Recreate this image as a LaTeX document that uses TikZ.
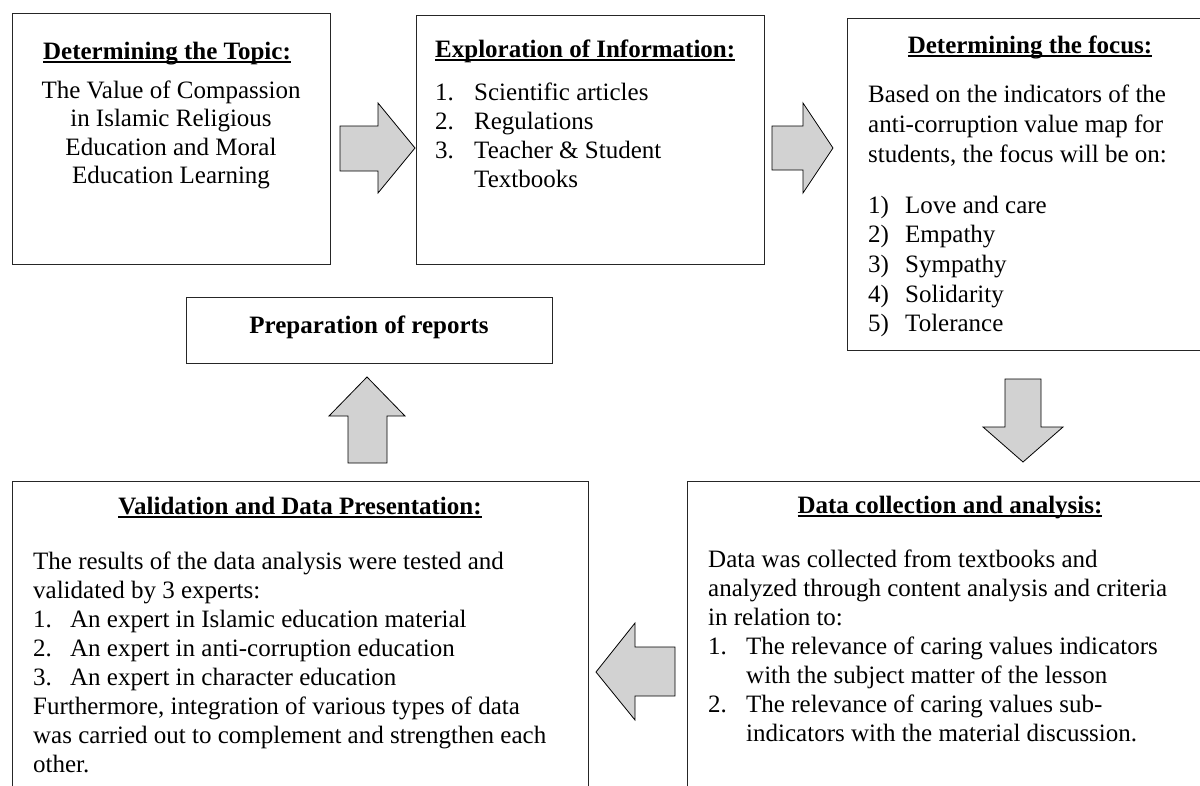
\documentclass[tikz,border=0pt]{standalone}
\usepackage{fontspec}
\setmainfont{Liberation Serif}
\definecolor{arrowgray}{HTML}{D2D2D2}
\newcommand{\ulin}[1]{\setbox0\hbox{#1}\rlap{\rule[-3.5pt]{\wd0}{1.5pt}}\copy0}
\newcommand{\leftlines}[2]{\vtop{\baselineskip=#1pt\lineskiplimit=-100pt\halign{##\hfil\cr#2\crcr}}}
\newcommand{\centerlines}[2]{\vtop{\baselineskip=#1pt\lineskiplimit=-100pt\halign{\hfil##\hfil\cr#2\crcr}}}
\newcommand{\num}[2]{\makebox[#1pt][l]{#2}}
\begin{document}
\begin{tikzpicture}[x=1pt,y=-1pt,
  box/.style={draw=black!85,line width=1.1pt,rectangle,inner sep=0pt,anchor=north west},
  txt/.style={inner sep=0pt,font=\fontsize{25}{29}\selectfont},
  head/.style={inner sep=0pt,anchor=base,font=\fontsize{25}{29}\selectfont\bfseries},
  blockarrow/.style={draw=black,line width=0.8pt,fill=arrowgray,line join=miter}]
\useasboundingbox (0,0) rectangle (1200,785);
\clip (0,0) rectangle (1200,785);
\fill[white] (0,0) rectangle (1200,785);
% boxes
\node[box,minimum width=318pt,minimum height=251pt] (topic) at (12,13) {};
\node[box,minimum width=348pt,minimum height=249pt] (explore) at (416,15) {};
\node[box,minimum width=365pt,minimum height=332pt] (focus) at (847,18) {};
\node[box,minimum width=366pt,minimum height=66pt] (prep) at (186,297) {};
\node[box,minimum width=576pt,minimum height=330pt] (valid) at (12,481) {};
\node[box,minimum width=526pt,minimum height=330pt] (data) at (687,481) {};
% box 1
\node[head] (t1h) at (167,59) {\ulin{Determining the Topic:}};
\node[txt,anchor=base] (t1b) at (171,98) {\centerlines{28.5}{The Value of Compassion\cr in Islamic Religious\cr Education and Moral\cr Education Learning}};
% box 2
\node[head,anchor=base west] (t2h) at (435,57) {\ulin{Exploration of Information:}};
\node[txt,anchor=base west] (t2b) at (435,100) {\leftlines{29.3}{\num{39}{1.}Scientific articles\cr \num{39}{2.}Regulations\cr \num{39}{3.}Teacher \& Student\cr \num{39}{}Textbooks}};
% box 3
\node[head] (t3h) at (1030,53) {\ulin{Determining the focus:}};
\node[txt,anchor=base west] (t3b) at (868,102) {\leftlines{30}{Based on the indicators of the\cr anti-corruption value map for\cr students, the focus will be on:}};
\node[txt,anchor=base west] (t3l) at (868,213) {\leftlines{29.7}{\num{37}{1)}Love and care\cr \num{37}{2)}Empathy\cr \num{37}{3)}Sympathy\cr \num{37}{4)}Solidarity\cr \num{37}{5)}Tolerance}};
% prep
\node[head] (t4h) at (369,333) {Preparation of reports};
% validation
\node[head] (t5h) at (300,514) {\ulin{Validation and Data Presentation:}};
\node[txt,anchor=base west] (t5b) at (33,569) {\leftlines{29}{The results of the data analysis were tested and\cr validated by 3 experts:\cr \num{37}{1.}An expert in Islamic education material\cr \num{37}{2.}An expert in anti-corruption education\cr \num{37}{3.}An expert in character education\cr Furthermore, integration of various types of data\cr was carried out to complement and strengthen each\cr other.}};
% data
\node[head] (t6h) at (950,513) {\ulin{Data collection and analysis:}};
\node[txt,anchor=base west] (t6b) at (708,567) {\leftlines{29}{Data was collected from textbooks and\cr analyzed through content analysis and criteria\cr in relation to:\cr \num{38}{1.}The relevance of caring values indicators\cr \num{38}{}with the subject matter of the lesson\cr \num{38}{2.}The relevance of caring values sub-\cr \num{38}{}indicators with the material discussion.}};
% block arrows
\draw[blockarrow] (340,126) -- (378,126) -- (378,103) -- (415,148) -- (378,193) -- (378,171) -- (340,171) -- cycle;
\draw[blockarrow] (772,126) -- (803,126) -- (803,103) -- (833,148) -- (803,193) -- (803,170) -- (772,170) -- cycle;
\draw[blockarrow] (1005,379) -- (1041,379) -- (1041,427) -- (1063,427) -- (1023,462) -- (983,427) -- (1005,427) -- cycle;
\draw[blockarrow] (675,647) -- (635,647) -- (635,623) -- (596,672) -- (635,720) -- (635,696) -- (675,696) -- cycle;
\draw[blockarrow] (348,463) -- (348,416) -- (329,416) -- (367,377) -- (405,416) -- (387,416) -- (387,463) -- cycle;
\end{tikzpicture}
\end{document}
